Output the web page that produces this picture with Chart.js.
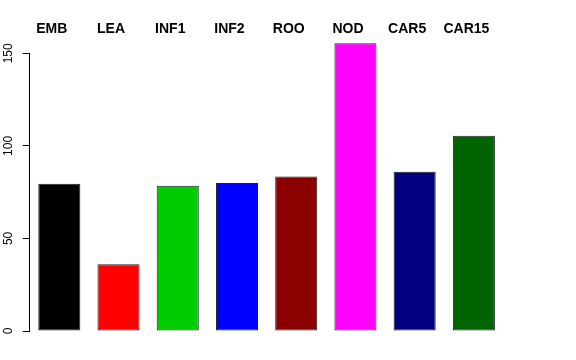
<!DOCTYPE html>
<html>
<head>
<meta charset="utf-8">
<script src="https://cdn.jsdelivr.net/npm/chart.js@4/dist/chart.umd.min.js"></script>
<style>
  html, body { margin: 0; padding: 0; background: #fff; }
  #wrap { width: 576px; height: 360px; }
</style>
</head>
<body>
<div id="wrap"><canvas id="c" width="576" height="360"></canvas></div>
<script>
// tissue categories and their values
const categories = ['EMB', 'LEA', 'INF1', 'INF2', 'ROO', 'NOD', 'CAR5', 'CAR15'];
const values = [79.5, 36, 78.5, 80, 83.5, 155.5, 86, 105.5];
const barColors = ['#000000', '#FF0000', '#00CD00', '#0000FF', '#8B0000', '#FF00FF', '#000080', '#006400'];
const yTicks = [0, 50, 100, 150];

const font = '"Liberation Sans", Arial, Helvetica, sans-serif';

// R-style axis line: only from first to last tick
const axisLine = {
  id: 'axisLine',
  afterDraw(chart) {
    const y = chart.scales.y, ctx = chart.ctx;
    const x = Math.round(chart.chartArea.left) - 0.5;
    ctx.save();
    ctx.strokeStyle = '#000';
    ctx.lineWidth = 1;
    ctx.beginPath();
    ctx.moveTo(x, Math.round(y.getPixelForValue(yTicks[0])) + 0.5);
    ctx.lineTo(x, Math.round(y.getPixelForValue(yTicks[yTicks.length - 1])) + 0.5);
    ctx.stroke();
    ctx.restore();
  }
};

new Chart(document.getElementById('c'), {
  type: 'bar',
  data: {
    labels: categories,
    datasets: [{
      data: values,
      backgroundColor: barColors,
      borderColor: '#222',
      borderWidth: 1,
      borderSkipped: false,
      barPercentage: 0.71,
      categoryPercentage: 1
    }]
  },
  options: {
    responsive: false,
    animation: false,
    layout: { padding: { top: 0, left: 0, right: 72.5, bottom: 29 } },
    plugins: { legend: { display: false }, tooltip: { enabled: false } },
    scales: {
      x: {
        position: 'top',
        afterFit: s => { s.height = 38.5; },
        grid: { display: false, drawTicks: false },
        border: { display: false },
        ticks: {
          color: '#000',
          padding: 2,
          labelOffset: -7.5,
          font: { family: font, size: 14, weight: 'bold', lineHeight: 1 }
        }
      },
      y: {
        min: 0,
        max: 158,
        afterFit: s => { s.width = 29.7; },
        afterBuildTicks: s => { s.ticks = yTicks.map(v => ({ value: v })); },
        grid: { drawOnChartArea: false, drawTicks: true, tickLength: 7, color: '#000' },
        border: { display: false },
        ticks: {
          color: '#000',
          minRotation: 90,
          maxRotation: 90,
          crossAlign: 'center',
          padding: 4,
          font: { family: font, size: 12 }
        }
      }
    }
  },
  plugins: [axisLine]
});
</script>
</body>
</html>
